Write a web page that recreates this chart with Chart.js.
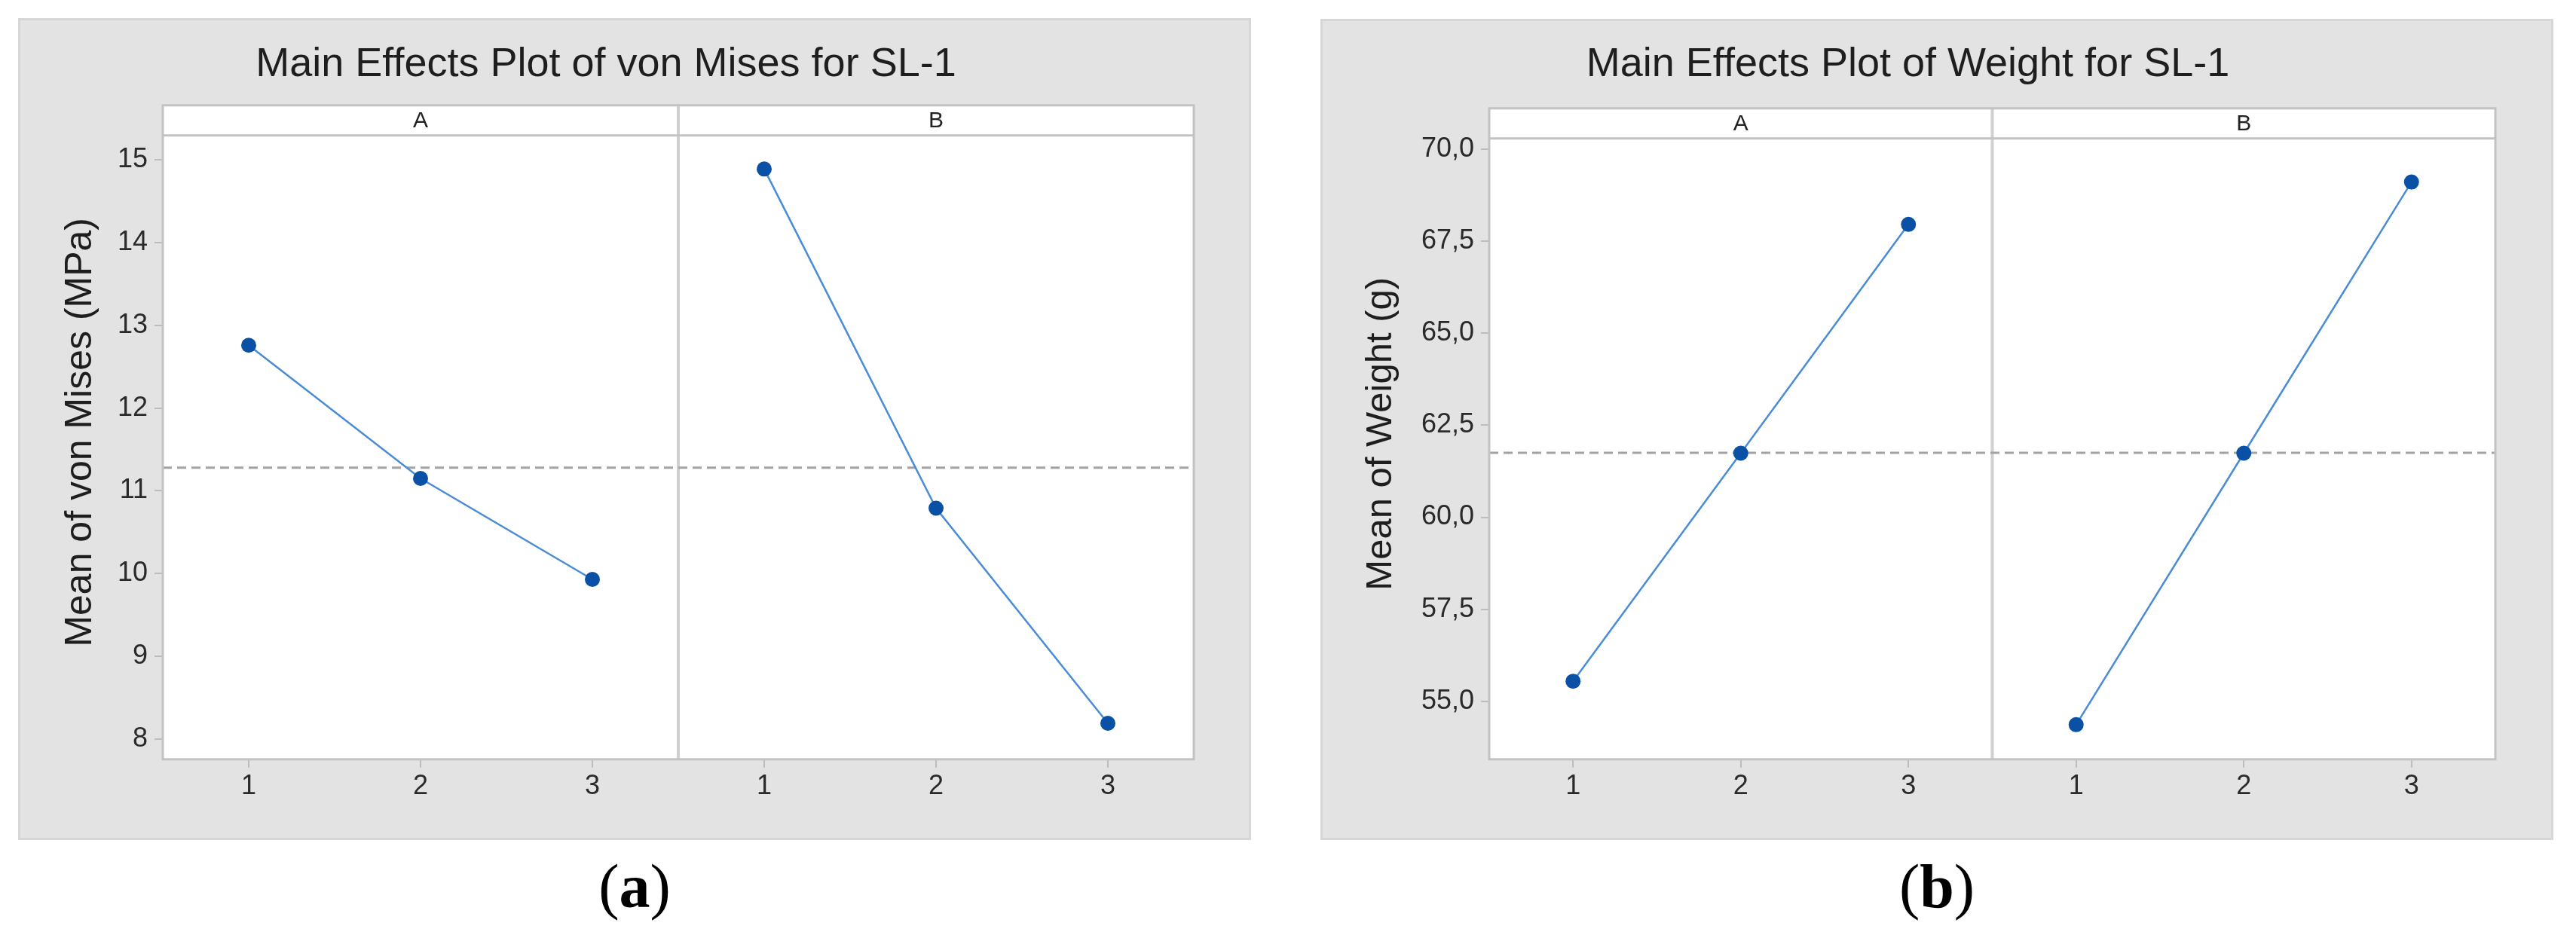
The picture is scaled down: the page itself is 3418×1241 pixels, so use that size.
<!DOCTYPE html>
<html>
<head>
<meta charset="utf-8">
<title>Main Effects Plots for SL-1</title>
<script src="https://cdn.jsdelivr.net/npm/chart.js@4.4.1/dist/chart.umd.min.js"></script>
<style>
  body { margin: 0; background: #fff; width: 3418px; height: 1241px; position: relative; overflow: hidden; }
  .box { position: absolute; background: #e3e3e3; box-shadow: inset 0 0 0 3px #d6d6d6; }
  .box canvas { position: absolute; left: 0; top: 0; }
  .cap { position: absolute; font-family: "Liberation Serif", "DejaVu Serif", serif; font-size: 82px; line-height: 1; text-align: center; color: #000; }
</style>
</head>
<body>

<div class="box" style="left:24px; top:24px; width:1636px; height:1091px;">
  <canvas id="chartA" width="1636" height="1091"></canvas>
</div>
<div class="box" style="left:1752px; top:25px; width:1636px; height:1090px;">
  <canvas id="chartB" width="1636" height="1090"></canvas>
</div>
<div class="cap" style="left:24px; width:1636px; top:1136px;">(<b>a</b>)</div>
<div class="cap" style="left:1752px; width:1636px; top:1136px;">(<b>b</b>)</div>

<script>
    // factor levels and panels
    const levels = ['1', '2', '3'];
    const factors = ['A', 'B'];

    // von Mises (MPa)
    const vonMisesA = [12.76, 11.15, 9.93];
    const vonMisesB = [14.89, 10.79, 8.19];
    const vonMisesMean = 11.28;
    const vonMisesRange = [7.755, 15.66];
    const vonMisesStep = 1;

    // Weight (g)
    const weightA = [55.55, 61.74, 67.95];
    const weightB = [54.37, 61.74, 69.10];
    const weightMean = 61.75;
    const weightRange = [53.43, 71.10];
    const weightStep = 2.5;

    Chart.defaults.font.family = '"Liberation Sans", Arial, sans-serif';

    // white plot area, strip with factor names, divider and frame
    const panelFrame = {
        id: 'panelFrame',
        beforeDraw(chart) {
            const a = chart.chartArea, ctx = chart.ctx;
            ctx.save();
            ctx.fillStyle = '#fff';
            ctx.fillRect(a.left, a.top, a.right - a.left, a.bottom - a.top);
            ctx.restore();
        },
        beforeDatasetsDraw(chart) {
            const a = chart.chartArea, ctx = chart.ctx;
            const x = chart.scales.xA.right;
            ctx.save();
            ctx.strokeStyle = '#d0d0d0';
            ctx.lineWidth = 4;
            ctx.beginPath();
            ctx.moveTo(x, a.top);
            ctx.lineTo(x, a.bottom);
            ctx.stroke();
            ctx.restore();
        },
        afterDatasetsDraw(chart, args, opts) {
            const a = chart.chartArea, ctx = chart.ctx;
            const sh = opts.stripHeight;
            ctx.save();
            ctx.strokeStyle = '#c3c3c3';
            ctx.lineWidth = 3;
            ctx.beginPath();
            ctx.moveTo(a.left, a.top + sh);
            ctx.lineTo(a.right, a.top + sh);
            ctx.stroke();
            ctx.strokeRect(a.left, a.top, a.right - a.left, a.bottom - a.top);
            ctx.fillStyle = '#222';
            ctx.font = '30px "Liberation Sans", Arial, sans-serif';
            ctx.textAlign = 'center';
            ctx.textBaseline = 'middle';
            ['xA', 'xB'].forEach((id, i) => {
                const s = chart.scales[id];
                ctx.fillText(factors[i], (s.left + s.right) / 2, a.top + sh / 2 + 1);
            });
            ctx.restore();
        }
    };

    function levelAxis() {
        return {
            type: 'category',
            labels: levels,
            position: 'bottom',
            stack: 'panels',
            offset: true,
            border: {display: false},
            grid: {drawOnChartArea: false, color: '#bdbdbd', lineWidth: 2, tickLength: 11},
            ticks: {color: '#2a2a2a', font: {size: 36}, padding: 4}
        };
    }

    function factorLine(values, axisId) {
        return {
            data: values,
            xAxisID: axisId,
            yAxisID: 'y',
            borderColor: '#4a8cd6',
            borderWidth: 2.5,
            pointRadius: 10,
            pointBackgroundColor: '#0a50a5',
            pointBorderWidth: 0,
            tension: 0
        };
    }

    function mainEffects(canvasId, title, yTitle, seriesA, seriesB, mean, range, step, fmt, pad) {
        return new Chart(document.getElementById(canvasId), {
            type: 'line',
            data: {
                labels: levels,
                datasets: [
                    factorLine(seriesA, 'xA'),
                    factorLine(seriesB, 'xB'),
                    {
                        data: [{x: 0, y: mean}, {x: 1, y: mean}],
                        xAxisID: 'xAll',
                        yAxisID: 'y',
                        borderColor: '#a3a3a3',
                        borderWidth: 3,
                        borderDash: [12, 7],
                        pointRadius: 0
                    }
                ]
            },
            options: {
                responsive: false,
                animation: false,
                devicePixelRatio: 1,
                layout: {padding: {left: 0, right: pad.right, top: 0, bottom: pad.bottom}},
                plugins: {
                    legend: {display: false},
                    tooltip: {enabled: false},
                    title: {
                        display: true,
                        text: title,
                        color: '#1e1e1e',
                        font: {size: 54, weight: 'normal'},
                        padding: {top: pad.titleTop, bottom: pad.titleBottom}
                    },
                    panelFrame: {stripHeight: 40}
                },
                scales: {
                    xA: levelAxis(),
                    xB: levelAxis(),
                    xAll: {type: 'linear', display: false, min: 0, max: 1},
                    y: {
                        type: 'linear',
                        position: 'left',
                        min: range[0],
                        max: range[1],
                        afterFit: s => { s.width = pad.axisWidth; },
                        border: {display: false},
                        grid: {drawOnChartArea: false, color: '#bdbdbd', lineWidth: 2, tickLength: 11},
                        ticks: {stepSize: step, includeBounds: false, color: '#2a2a2a', font: {size: 36}, padding: 9, callback: fmt},
                        title: {
                            display: true,
                            text: yTitle,
                            color: '#1e1e1e',
                            font: {size: pad.yFont},
                            padding: {top: pad.yTitle, bottom: 0}
                        }
                    }
                }
            },
            plugins: [panelFrame]
        });
    }

    mainEffects('chartA', 'Main Effects Plot of von Mises for SL-1', 'Mean of von Mises (MPa)',
        vonMisesA, vonMisesB, vonMisesMean, vonMisesRange, vonMisesStep,
        v => String(v),
        {right: 76, bottom: 45, titleTop: 30, titleBottom: 21, axisWidth: 192, yTitle: 53, yFont: 50});

    mainEffects('chartB', 'Main Effects Plot of Weight for SL-1', 'Mean of Weight (g)',
        weightA, weightB, weightMean, weightRange, weightStep,
        v => v.toFixed(1).replace('.', ','),
        {right: 77, bottom: 45, titleTop: 29, titleBottom: 25, axisWidth: 224, yTitle: 51, yFont: 49});
</script>

</body>
</html>
